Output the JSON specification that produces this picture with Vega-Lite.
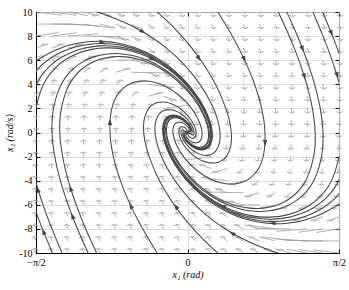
{
"$schema":"https://vega.github.io/schema/vega-lite/v6.json",
"width":303,"height":241,
"autosize":{"type":"none"},
"padding":{"left":36,"top":12,"right":10,"bottom":37},
"background":"white",
"config":{"view":{"stroke":"black","strokeWidth":1},"font":"Liberation Serif",
"axis":{"labelFont":"Liberation Serif","titleFont":"Liberation Serif","labelFontSize":10,"titleFontSize":10,"labelColor":"black","titleColor":"black","domainColor":"black","tickColor":"black","gridColor":"#d8d8d8","gridWidth":0.8,"titleFontWeight":"normal"}},
"datasets":{
"arrows":[
{"x":-1.571,"y":-10,"xe":-1.591,"ye":-9.62,"hx":-1.584,"h":"u"},{"x":-1.571,"y":-9,"xe":-1.590,"ye":-8.62,"hx":-1.584,"h":"u"},{"x":-1.571,"y":-8,"xe":-1.589,"ye":-7.62,"hx":-1.583,"h":"u"},{"x":-1.571,"y":-7,"xe":-1.588,"ye":-6.62,"hx":-1.582,"h":"u"},{"x":-1.571,"y":-6,"xe":-1.586,"ye":-5.62,"hx":-1.581,"h":"u"},{"x":-1.571,"y":-5,"xe":-1.585,"ye":-4.62,"hx":-1.580,"h":"u"},{"x":-1.571,"y":-4,"xe":-1.583,"ye":-3.62,"hx":-1.579,"h":"u"},{"x":-1.571,"y":-3,"xe":-1.581,"ye":-2.62,"hx":-1.577,"h":"u"},{"x":-1.571,"y":-2,"xe":-1.578,"ye":-1.62,"hx":-1.576,"h":"u"},{"x":-1.571,"y":-1,"xe":-1.575,"ye":-0.62,"hx":-1.574,"h":"u"},{"x":-1.571,"y":0,"xe":-1.571,"ye":0.38,"hx":-1.571,"h":"u"},{"x":-1.571,"y":1,"xe":-1.566,"ye":1.38,"hx":-1.568,"h":"u"},{"x":-1.571,"y":2,"xe":-1.560,"ye":2.38,"hx":-1.564,"h":"u"},{"x":-1.571,"y":3,"xe":-1.552,"ye":3.38,"hx":-1.558,"h":"u"},{"x":-1.571,"y":4,"xe":-1.541,"ye":4.38,"hx":-1.551,"h":"u"},{"x":-1.571,"y":5,"xe":-1.524,"ye":5.38,"hx":-1.540,"h":"u"},{"x":-1.571,"y":6,"xe":-1.496,"ye":6.37,"hx":-1.521,"h":"u"},{"x":-1.571,"y":7,"xe":-1.445,"ye":7.36,"hx":-1.487,"h":"u"},{"x":-1.571,"y":8,"xe":-1.334,"ye":8.3,"h":"n"},{"x":-1.571,"y":9,"xe":-1.191,"ye":9,"h":"n"},{"x":-1.571,"y":10,"xe":-1.302,"ye":9.73,"h":"n"},
{"x":-1.405,"y":-10,"xe":-1.425,"ye":-9.62,"hx":-1.418,"h":"u"},{"x":-1.405,"y":-9,"xe":-1.424,"ye":-8.62,"hx":-1.418,"h":"u"},{"x":-1.405,"y":-8,"xe":-1.423,"ye":-7.62,"hx":-1.417,"h":"u"},{"x":-1.405,"y":-7,"xe":-1.422,"ye":-6.62,"hx":-1.416,"h":"u"},{"x":-1.405,"y":-6,"xe":-1.420,"ye":-5.62,"hx":-1.415,"h":"u"},{"x":-1.405,"y":-5,"xe":-1.419,"ye":-4.62,"hx":-1.414,"h":"u"},{"x":-1.405,"y":-4,"xe":-1.417,"ye":-3.62,"hx":-1.413,"h":"u"},{"x":-1.405,"y":-3,"xe":-1.415,"ye":-2.62,"hx":-1.412,"h":"u"},{"x":-1.405,"y":-2,"xe":-1.412,"ye":-1.62,"hx":-1.410,"h":"u"},{"x":-1.405,"y":-1,"xe":-1.409,"ye":-0.62,"hx":-1.408,"h":"u"},{"x":-1.405,"y":0,"xe":-1.405,"ye":0.38,"hx":-1.405,"h":"u"},{"x":-1.405,"y":1,"xe":-1.400,"ye":1.38,"hx":-1.402,"h":"u"},{"x":-1.405,"y":2,"xe":-1.394,"ye":2.38,"hx":-1.398,"h":"u"},{"x":-1.405,"y":3,"xe":-1.386,"ye":3.38,"hx":-1.392,"h":"u"},{"x":-1.405,"y":4,"xe":-1.374,"ye":4.38,"hx":-1.384,"h":"u"},{"x":-1.405,"y":5,"xe":-1.356,"ye":5.38,"hx":-1.372,"h":"u"},{"x":-1.405,"y":6,"xe":-1.327,"ye":6.37,"hx":-1.353,"h":"u"},{"x":-1.405,"y":7,"xe":-1.272,"ye":7.36,"hx":-1.316,"h":"u"},{"x":-1.405,"y":8,"xe":-1.149,"ye":8.28,"h":"n"},{"x":-1.405,"y":9,"xe":-1.028,"ye":8.95,"h":"n"},{"x":-1.405,"y":10,"xe":-1.152,"ye":9.72,"h":"n"},
{"x":-1.240,"y":-10,"xe":-1.261,"ye":-9.62,"hx":-1.254,"h":"u"},{"x":-1.240,"y":-9,"xe":-1.260,"ye":-8.62,"hx":-1.253,"h":"u"},{"x":-1.240,"y":-8,"xe":-1.258,"ye":-7.62,"hx":-1.252,"h":"u"},{"x":-1.240,"y":-7,"xe":-1.257,"ye":-6.62,"hx":-1.251,"h":"u"},{"x":-1.240,"y":-6,"xe":-1.256,"ye":-5.62,"hx":-1.251,"h":"u"},{"x":-1.240,"y":-5,"xe":-1.254,"ye":-4.62,"hx":-1.249,"h":"u"},{"x":-1.240,"y":-4,"xe":-1.252,"ye":-3.62,"hx":-1.248,"h":"u"},{"x":-1.240,"y":-3,"xe":-1.250,"ye":-2.62,"hx":-1.247,"h":"u"},{"x":-1.240,"y":-2,"xe":-1.247,"ye":-1.62,"hx":-1.245,"h":"u"},{"x":-1.240,"y":-1,"xe":-1.244,"ye":-0.62,"hx":-1.243,"h":"u"},{"x":-1.240,"y":0,"xe":-1.240,"ye":0.38,"hx":-1.240,"h":"u"},{"x":-1.240,"y":1,"xe":-1.235,"ye":1.38,"hx":-1.237,"h":"u"},{"x":-1.240,"y":2,"xe":-1.228,"ye":2.38,"hx":-1.232,"h":"u"},{"x":-1.240,"y":3,"xe":-1.219,"ye":3.38,"hx":-1.226,"h":"u"},{"x":-1.240,"y":4,"xe":-1.206,"ye":4.38,"hx":-1.217,"h":"u"},{"x":-1.240,"y":5,"xe":-1.186,"ye":5.38,"hx":-1.204,"h":"u"},{"x":-1.240,"y":6,"xe":-1.152,"ye":6.37,"hx":-1.181,"h":"u"},{"x":-1.240,"y":7,"xe":-1.080,"ye":7.35,"hx":-1.133,"h":"u"},{"x":-1.240,"y":8,"xe":-0.920,"ye":8.2,"h":"n"},{"x":-1.240,"y":9,"xe":-0.906,"ye":8.82,"h":"n"},{"x":-1.240,"y":10,"xe":-1.028,"ye":9.69,"h":"n"},
{"x":-1.075,"y":-10,"xe":-1.096,"ye":-9.62,"hx":-1.089,"h":"u"},{"x":-1.075,"y":-9,"xe":-1.095,"ye":-8.62,"hx":-1.088,"h":"u"},{"x":-1.075,"y":-8,"xe":-1.094,"ye":-7.62,"hx":-1.088,"h":"u"},{"x":-1.075,"y":-7,"xe":-1.093,"ye":-6.62,"hx":-1.087,"h":"u"},{"x":-1.075,"y":-6,"xe":-1.091,"ye":-5.62,"hx":-1.086,"h":"u"},{"x":-1.075,"y":-5,"xe":-1.090,"ye":-4.62,"hx":-1.085,"h":"u"},{"x":-1.075,"y":-4,"xe":-1.088,"ye":-3.62,"hx":-1.084,"h":"u"},{"x":-1.075,"y":-3,"xe":-1.085,"ye":-2.62,"hx":-1.082,"h":"u"},{"x":-1.075,"y":-2,"xe":-1.083,"ye":-1.62,"hx":-1.080,"h":"u"},{"x":-1.075,"y":-1,"xe":-1.079,"ye":-0.62,"hx":-1.078,"h":"u"},{"x":-1.075,"y":0,"xe":-1.075,"ye":0.38,"hx":-1.075,"h":"u"},{"x":-1.075,"y":1,"xe":-1.069,"ye":1.38,"hx":-1.071,"h":"u"},{"x":-1.075,"y":2,"xe":-1.062,"ye":2.38,"hx":-1.066,"h":"u"},{"x":-1.075,"y":3,"xe":-1.052,"ye":3.38,"hx":-1.060,"h":"u"},{"x":-1.075,"y":4,"xe":-1.036,"ye":4.38,"hx":-1.049,"h":"u"},{"x":-1.075,"y":5,"xe":-1.011,"ye":5.38,"hx":-1.032,"h":"u"},{"x":-1.075,"y":6,"xe":-0.961,"ye":6.36,"hx":-0.999,"h":"u"},{"x":-1.075,"y":7,"xe":-0.844,"ye":7.3,"h":"n"},{"x":-1.075,"y":8,"xe":-0.697,"ye":7.96,"h":"n"},{"x":-1.075,"y":9,"xe":-0.832,"ye":8.71,"h":"n"},{"x":-1.075,"y":10,"xe":-0.910,"ye":9.66,"hx":-0.965,"h":"d"},
{"x":-0.909,"y":-10,"xe":-0.931,"ye":-9.62,"hx":-0.924,"h":"u"},{"x":-0.909,"y":-9,"xe":-0.930,"ye":-8.62,"hx":-0.923,"h":"u"},{"x":-0.909,"y":-8,"xe":-0.929,"ye":-7.62,"hx":-0.922,"h":"u"},{"x":-0.909,"y":-7,"xe":-0.928,"ye":-6.62,"hx":-0.922,"h":"u"},{"x":-0.909,"y":-6,"xe":-0.926,"ye":-5.62,"hx":-0.920,"h":"u"},{"x":-0.909,"y":-5,"xe":-0.925,"ye":-4.62,"hx":-0.920,"h":"u"},{"x":-0.909,"y":-4,"xe":-0.923,"ye":-3.62,"hx":-0.918,"h":"u"},{"x":-0.909,"y":-3,"xe":-0.920,"ye":-2.62,"hx":-0.916,"h":"u"},{"x":-0.909,"y":-2,"xe":-0.917,"ye":-1.62,"hx":-0.914,"h":"u"},{"x":-0.909,"y":-1,"xe":-0.914,"ye":-0.62,"hx":-0.912,"h":"u"},{"x":-0.909,"y":0,"xe":-0.909,"ye":0.38,"hx":-0.909,"h":"u"},{"x":-0.909,"y":1,"xe":-0.903,"ye":1.38,"hx":-0.905,"h":"u"},{"x":-0.909,"y":2,"xe":-0.894,"ye":2.38,"hx":-0.899,"h":"u"},{"x":-0.909,"y":3,"xe":-0.881,"ye":3.38,"hx":-0.890,"h":"u"},{"x":-0.909,"y":4,"xe":-0.860,"ye":4.38,"hx":-0.876,"h":"u"},{"x":-0.909,"y":5,"xe":-0.825,"ye":5.35,"hx":-0.853,"h":"u"},{"x":-0.909,"y":6,"xe":-0.727,"ye":6.33,"hx":-0.787,"h":"u"},{"x":-0.909,"y":7,"xe":-0.533,"ye":7.05,"h":"n"},{"x":-0.909,"y":8,"xe":-0.656,"ye":7.72,"h":"n"},{"x":-0.909,"y":9,"xe":-0.746,"ye":8.66,"hx":-0.800,"h":"d"},{"x":-0.909,"y":10,"xe":-0.785,"ye":9.64,"hx":-0.826,"h":"d"},
{"x":-0.744,"y":-10,"xe":-0.768,"ye":-9.62,"hx":-0.760,"h":"u"},{"x":-0.744,"y":-9,"xe":-0.767,"ye":-8.62,"hx":-0.759,"h":"u"},{"x":-0.744,"y":-8,"xe":-0.766,"ye":-7.62,"hx":-0.759,"h":"u"},{"x":-0.744,"y":-7,"xe":-0.764,"ye":-6.62,"hx":-0.758,"h":"u"},{"x":-0.744,"y":-6,"xe":-0.763,"ye":-5.62,"hx":-0.757,"h":"u"},{"x":-0.744,"y":-5,"xe":-0.761,"ye":-4.62,"hx":-0.755,"h":"u"},{"x":-0.744,"y":-4,"xe":-0.759,"ye":-3.62,"hx":-0.754,"h":"u"},{"x":-0.744,"y":-3,"xe":-0.757,"ye":-2.62,"hx":-0.753,"h":"u"},{"x":-0.744,"y":-2,"xe":-0.753,"ye":-1.62,"hx":-0.750,"h":"u"},{"x":-0.744,"y":-1,"xe":-0.749,"ye":-0.62,"hx":-0.748,"h":"u"},{"x":-0.744,"y":0,"xe":-0.744,"ye":0.38,"hx":-0.744,"h":"u"},{"x":-0.744,"y":1,"xe":-0.736,"ye":1.38,"hx":-0.739,"h":"u"},{"x":-0.744,"y":2,"xe":-0.725,"ye":2.38,"hx":-0.731,"h":"u"},{"x":-0.744,"y":3,"xe":-0.707,"ye":3.38,"hx":-0.719,"h":"u"},{"x":-0.744,"y":4,"xe":-0.673,"ye":4.37,"hx":-0.696,"h":"u"},{"x":-0.744,"y":5,"xe":-0.586,"ye":5.35,"hx":-0.638,"h":"u"},{"x":-0.744,"y":6,"xe":-0.369,"ye":6.06,"h":"n"},{"x":-0.744,"y":7,"xe":-0.511,"ye":6.7,"h":"n"},{"x":-0.744,"y":8,"xe":-0.597,"ye":7.65,"hx":-0.645,"h":"d"},{"x":-0.744,"y":9,"xe":-0.631,"ye":8.64,"hx":-0.669,"h":"d"},{"x":-0.744,"y":10,"xe":-0.650,"ye":9.63,"hx":-0.681,"h":"d"},
{"x":-0.579,"y":-10,"xe":-0.605,"ye":-9.62,"hx":-0.596,"h":"u"},{"x":-0.579,"y":-9,"xe":-0.604,"ye":-8.62,"hx":-0.596,"h":"u"},{"x":-0.579,"y":-8,"xe":-0.603,"ye":-7.62,"hx":-0.595,"h":"u"},{"x":-0.579,"y":-7,"xe":-0.601,"ye":-6.62,"hx":-0.594,"h":"u"},{"x":-0.579,"y":-6,"xe":-0.600,"ye":-5.62,"hx":-0.593,"h":"u"},{"x":-0.579,"y":-5,"xe":-0.598,"ye":-4.62,"hx":-0.592,"h":"u"},{"x":-0.579,"y":-4,"xe":-0.596,"ye":-3.62,"hx":-0.590,"h":"u"},{"x":-0.579,"y":-3,"xe":-0.593,"ye":-2.62,"hx":-0.588,"h":"u"},{"x":-0.579,"y":-2,"xe":-0.590,"ye":-1.62,"hx":-0.586,"h":"u"},{"x":-0.579,"y":-1,"xe":-0.585,"ye":-0.62,"hx":-0.583,"h":"u"},{"x":-0.579,"y":0,"xe":-0.579,"ye":0.38,"hx":-0.579,"h":"u"},{"x":-0.579,"y":1,"xe":-0.569,"ye":1.38,"hx":-0.572,"h":"u"},{"x":-0.579,"y":2,"xe":-0.553,"ye":2.38,"hx":-0.562,"h":"u"},{"x":-0.579,"y":3,"xe":-0.520,"ye":3.38,"hx":-0.539,"h":"u"},{"x":-0.579,"y":4,"xe":-0.428,"ye":4.35,"hx":-0.478,"h":"u"},{"x":-0.579,"y":5,"xe":-0.203,"ye":4.94,"h":"n"},{"x":-0.579,"y":6,"xe":-0.394,"ye":5.67,"hx":-0.455,"h":"d"},{"x":-0.579,"y":7,"xe":-0.458,"ye":6.64,"hx":-0.498,"h":"d"},{"x":-0.579,"y":8,"xe":-0.483,"ye":7.63,"hx":-0.515,"h":"d"},{"x":-0.579,"y":9,"xe":-0.497,"ye":8.63,"hx":-0.524,"h":"d"},{"x":-0.579,"y":10,"xe":-0.506,"ye":9.63,"hx":-0.530,"h":"d"},
{"x":-0.413,"y":-10,"xe":-0.441,"ye":-9.62,"hx":-0.432,"h":"u"},{"x":-0.413,"y":-9,"xe":-0.440,"ye":-8.62,"hx":-0.431,"h":"u"},{"x":-0.413,"y":-8,"xe":-0.439,"ye":-7.62,"hx":-0.431,"h":"u"},{"x":-0.413,"y":-7,"xe":-0.438,"ye":-6.62,"hx":-0.430,"h":"u"},{"x":-0.413,"y":-6,"xe":-0.437,"ye":-5.62,"hx":-0.429,"h":"u"},{"x":-0.413,"y":-5,"xe":-0.435,"ye":-4.62,"hx":-0.428,"h":"u"},{"x":-0.413,"y":-4,"xe":-0.433,"ye":-3.62,"hx":-0.426,"h":"u"},{"x":-0.413,"y":-3,"xe":-0.430,"ye":-2.62,"hx":-0.425,"h":"u"},{"x":-0.413,"y":-2,"xe":-0.427,"ye":-1.62,"hx":-0.422,"h":"u"},{"x":-0.413,"y":-1,"xe":-0.421,"ye":-0.62,"hx":-0.418,"h":"u"},{"x":-0.413,"y":0,"xe":-0.413,"ye":0.38,"hx":-0.413,"h":"u"},{"x":-0.413,"y":1,"xe":-0.399,"ye":1.38,"hx":-0.403,"h":"u"},{"x":-0.413,"y":2,"xe":-0.366,"ye":2.38,"hx":-0.382,"h":"u"},{"x":-0.413,"y":3,"xe":-0.246,"ye":3.34,"hx":-0.301,"h":"u"},{"x":-0.413,"y":4,"xe":-0.139,"ye":3.74,"h":"n"},{"x":-0.413,"y":5,"xe":-0.284,"ye":4.64,"hx":-0.327,"h":"d"},{"x":-0.413,"y":6,"xe":-0.320,"ye":5.63,"hx":-0.351,"h":"d"},{"x":-0.413,"y":7,"xe":-0.336,"ye":6.63,"hx":-0.361,"h":"d"},{"x":-0.413,"y":8,"xe":-0.345,"ye":7.63,"hx":-0.367,"h":"d"},{"x":-0.413,"y":9,"xe":-0.350,"ye":8.63,"hx":-0.371,"h":"d"},{"x":-0.413,"y":10,"xe":-0.354,"ye":9.63,"hx":-0.374,"h":"d"},
{"x":-0.248,"y":-10,"xe":-0.279,"ye":-9.62,"hx":-0.269,"h":"u"},{"x":-0.248,"y":-9,"xe":-0.279,"ye":-8.62,"hx":-0.268,"h":"u"},{"x":-0.248,"y":-8,"xe":-0.278,"ye":-7.62,"hx":-0.268,"h":"u"},{"x":-0.248,"y":-7,"xe":-0.277,"ye":-6.62,"hx":-0.267,"h":"u"},{"x":-0.248,"y":-6,"xe":-0.276,"ye":-5.62,"hx":-0.267,"h":"u"},{"x":-0.248,"y":-5,"xe":-0.274,"ye":-4.62,"hx":-0.266,"h":"u"},{"x":-0.248,"y":-4,"xe":-0.273,"ye":-3.62,"hx":-0.264,"h":"u"},{"x":-0.248,"y":-3,"xe":-0.270,"ye":-2.62,"hx":-0.263,"h":"u"},{"x":-0.248,"y":-2,"xe":-0.266,"ye":-1.62,"hx":-0.260,"h":"u"},{"x":-0.248,"y":-1,"xe":-0.260,"ye":-0.62,"hx":-0.256,"h":"u"},{"x":-0.248,"y":0,"xe":-0.248,"ye":0.38,"hx":-0.248,"h":"u"},{"x":-0.248,"y":1,"xe":-0.217,"ye":1.38,"hx":-0.227,"h":"u"},{"x":-0.248,"y":2,"xe":0.014,"ye":2.28,"h":"n"},{"x":-0.248,"y":3,"xe":-0.113,"ye":2.64,"hx":-0.158,"h":"d"},{"x":-0.248,"y":4,"xe":-0.165,"ye":3.63,"hx":-0.192,"h":"d"},{"x":-0.248,"y":5,"xe":-0.181,"ye":4.63,"hx":-0.203,"h":"d"},{"x":-0.248,"y":6,"xe":-0.189,"ye":5.63,"hx":-0.208,"h":"d"},{"x":-0.248,"y":7,"xe":-0.193,"ye":6.62,"hx":-0.211,"h":"d"},{"x":-0.248,"y":8,"xe":-0.196,"ye":7.62,"hx":-0.213,"h":"d"},{"x":-0.248,"y":9,"xe":-0.198,"ye":8.62,"hx":-0.215,"h":"d"},{"x":-0.248,"y":10,"xe":-0.200,"ye":9.62,"hx":-0.216,"h":"d"},
{"x":-0.083,"y":-10,"xe":-0.118,"ye":-9.62,"hx":-0.107,"h":"u"},{"x":-0.083,"y":-9,"xe":-0.118,"ye":-8.62,"hx":-0.106,"h":"u"},{"x":-0.083,"y":-8,"xe":-0.118,"ye":-7.62,"hx":-0.106,"h":"u"},{"x":-0.083,"y":-7,"xe":-0.117,"ye":-6.62,"hx":-0.106,"h":"u"},{"x":-0.083,"y":-6,"xe":-0.117,"ye":-5.62,"hx":-0.106,"h":"u"},{"x":-0.083,"y":-5,"xe":-0.116,"ye":-4.62,"hx":-0.105,"h":"u"},{"x":-0.083,"y":-4,"xe":-0.115,"ye":-3.62,"hx":-0.104,"h":"u"},{"x":-0.083,"y":-3,"xe":-0.113,"ye":-2.62,"hx":-0.103,"h":"u"},{"x":-0.083,"y":-2,"xe":-0.111,"ye":-1.62,"hx":-0.101,"h":"u"},{"x":-0.083,"y":-1,"xe":-0.105,"ye":-0.62,"hx":-0.098,"h":"u"},{"x":-0.083,"y":0,"xe":-0.083,"ye":0.38,"hx":-0.083,"h":"u"},{"x":-0.083,"y":1,"xe":0.055,"ye":0.65,"hx":0.009,"h":"d"},{"x":-0.083,"y":2,"xe":-0.023,"ye":1.62,"hx":-0.043,"h":"d"},{"x":-0.083,"y":3,"xe":-0.033,"ye":2.62,"hx":-0.049,"h":"d"},{"x":-0.083,"y":4,"xe":-0.037,"ye":3.62,"hx":-0.052,"h":"d"},{"x":-0.083,"y":5,"xe":-0.039,"ye":4.62,"hx":-0.053,"h":"d"},{"x":-0.083,"y":6,"xe":-0.040,"ye":5.62,"hx":-0.054,"h":"d"},{"x":-0.083,"y":7,"xe":-0.041,"ye":6.62,"hx":-0.055,"h":"d"},{"x":-0.083,"y":8,"xe":-0.041,"ye":7.62,"hx":-0.055,"h":"d"},{"x":-0.083,"y":9,"xe":-0.042,"ye":8.62,"hx":-0.055,"h":"d"},{"x":-0.083,"y":10,"xe":-0.042,"ye":9.62,"hx":-0.056,"h":"d"},
{"x":0.083,"y":10,"xe":0.118,"ye":9.62,"hx":0.107,"h":"d"},{"x":0.083,"y":9,"xe":0.118,"ye":8.62,"hx":0.106,"h":"d"},{"x":0.083,"y":8,"xe":0.118,"ye":7.62,"hx":0.106,"h":"d"},{"x":0.083,"y":7,"xe":0.117,"ye":6.62,"hx":0.106,"h":"d"},{"x":0.083,"y":6,"xe":0.117,"ye":5.62,"hx":0.106,"h":"d"},{"x":0.083,"y":5,"xe":0.116,"ye":4.62,"hx":0.105,"h":"d"},{"x":0.083,"y":4,"xe":0.115,"ye":3.62,"hx":0.104,"h":"d"},{"x":0.083,"y":3,"xe":0.113,"ye":2.62,"hx":0.103,"h":"d"},{"x":0.083,"y":2,"xe":0.111,"ye":1.62,"hx":0.101,"h":"d"},{"x":0.083,"y":1,"xe":0.105,"ye":0.62,"hx":0.098,"h":"d"},{"x":0.083,"y":0,"xe":0.083,"ye":-0.38,"hx":0.083,"h":"d"},{"x":0.083,"y":-1,"xe":-0.055,"ye":-0.65,"hx":-0.009,"h":"u"},{"x":0.083,"y":-2,"xe":0.023,"ye":-1.62,"hx":0.043,"h":"u"},{"x":0.083,"y":-3,"xe":0.033,"ye":-2.62,"hx":0.049,"h":"u"},{"x":0.083,"y":-4,"xe":0.037,"ye":-3.62,"hx":0.052,"h":"u"},{"x":0.083,"y":-5,"xe":0.039,"ye":-4.62,"hx":0.053,"h":"u"},{"x":0.083,"y":-6,"xe":0.040,"ye":-5.62,"hx":0.054,"h":"u"},{"x":0.083,"y":-7,"xe":0.041,"ye":-6.62,"hx":0.055,"h":"u"},{"x":0.083,"y":-8,"xe":0.041,"ye":-7.62,"hx":0.055,"h":"u"},{"x":0.083,"y":-9,"xe":0.042,"ye":-8.62,"hx":0.055,"h":"u"},{"x":0.083,"y":-10,"xe":0.042,"ye":-9.62,"hx":0.056,"h":"u"},
{"x":0.248,"y":10,"xe":0.279,"ye":9.62,"hx":0.269,"h":"d"},{"x":0.248,"y":9,"xe":0.279,"ye":8.62,"hx":0.268,"h":"d"},{"x":0.248,"y":8,"xe":0.278,"ye":7.62,"hx":0.268,"h":"d"},{"x":0.248,"y":7,"xe":0.277,"ye":6.62,"hx":0.267,"h":"d"},{"x":0.248,"y":6,"xe":0.276,"ye":5.62,"hx":0.267,"h":"d"},{"x":0.248,"y":5,"xe":0.274,"ye":4.62,"hx":0.266,"h":"d"},{"x":0.248,"y":4,"xe":0.273,"ye":3.62,"hx":0.264,"h":"d"},{"x":0.248,"y":3,"xe":0.270,"ye":2.62,"hx":0.263,"h":"d"},{"x":0.248,"y":2,"xe":0.266,"ye":1.62,"hx":0.260,"h":"d"},{"x":0.248,"y":1,"xe":0.260,"ye":0.62,"hx":0.256,"h":"d"},{"x":0.248,"y":0,"xe":0.248,"ye":-0.38,"hx":0.248,"h":"d"},{"x":0.248,"y":-1,"xe":0.217,"ye":-1.38,"hx":0.227,"h":"d"},{"x":0.248,"y":-2,"xe":-0.014,"ye":-2.28,"h":"n"},{"x":0.248,"y":-3,"xe":0.113,"ye":-2.64,"hx":0.158,"h":"u"},{"x":0.248,"y":-4,"xe":0.165,"ye":-3.63,"hx":0.192,"h":"u"},{"x":0.248,"y":-5,"xe":0.181,"ye":-4.63,"hx":0.203,"h":"u"},{"x":0.248,"y":-6,"xe":0.189,"ye":-5.63,"hx":0.208,"h":"u"},{"x":0.248,"y":-7,"xe":0.193,"ye":-6.62,"hx":0.211,"h":"u"},{"x":0.248,"y":-8,"xe":0.196,"ye":-7.62,"hx":0.213,"h":"u"},{"x":0.248,"y":-9,"xe":0.198,"ye":-8.62,"hx":0.215,"h":"u"},{"x":0.248,"y":-10,"xe":0.200,"ye":-9.62,"hx":0.216,"h":"u"},
{"x":0.413,"y":10,"xe":0.441,"ye":9.62,"hx":0.432,"h":"d"},{"x":0.413,"y":9,"xe":0.440,"ye":8.62,"hx":0.431,"h":"d"},{"x":0.413,"y":8,"xe":0.439,"ye":7.62,"hx":0.431,"h":"d"},{"x":0.413,"y":7,"xe":0.438,"ye":6.62,"hx":0.430,"h":"d"},{"x":0.413,"y":6,"xe":0.437,"ye":5.62,"hx":0.429,"h":"d"},{"x":0.413,"y":5,"xe":0.435,"ye":4.62,"hx":0.428,"h":"d"},{"x":0.413,"y":4,"xe":0.433,"ye":3.62,"hx":0.426,"h":"d"},{"x":0.413,"y":3,"xe":0.430,"ye":2.62,"hx":0.425,"h":"d"},{"x":0.413,"y":2,"xe":0.427,"ye":1.62,"hx":0.422,"h":"d"},{"x":0.413,"y":1,"xe":0.421,"ye":0.62,"hx":0.418,"h":"d"},{"x":0.413,"y":0,"xe":0.413,"ye":-0.38,"hx":0.413,"h":"d"},{"x":0.413,"y":-1,"xe":0.399,"ye":-1.38,"hx":0.403,"h":"d"},{"x":0.413,"y":-2,"xe":0.366,"ye":-2.38,"hx":0.382,"h":"d"},{"x":0.413,"y":-3,"xe":0.246,"ye":-3.34,"hx":0.301,"h":"d"},{"x":0.413,"y":-4,"xe":0.139,"ye":-3.74,"h":"n"},{"x":0.413,"y":-5,"xe":0.284,"ye":-4.64,"hx":0.327,"h":"u"},{"x":0.413,"y":-6,"xe":0.320,"ye":-5.63,"hx":0.351,"h":"u"},{"x":0.413,"y":-7,"xe":0.336,"ye":-6.63,"hx":0.361,"h":"u"},{"x":0.413,"y":-8,"xe":0.345,"ye":-7.63,"hx":0.367,"h":"u"},{"x":0.413,"y":-9,"xe":0.350,"ye":-8.63,"hx":0.371,"h":"u"},{"x":0.413,"y":-10,"xe":0.354,"ye":-9.63,"hx":0.374,"h":"u"},
{"x":0.579,"y":10,"xe":0.605,"ye":9.62,"hx":0.596,"h":"d"},{"x":0.579,"y":9,"xe":0.604,"ye":8.62,"hx":0.596,"h":"d"},{"x":0.579,"y":8,"xe":0.603,"ye":7.62,"hx":0.595,"h":"d"},{"x":0.579,"y":7,"xe":0.601,"ye":6.62,"hx":0.594,"h":"d"},{"x":0.579,"y":6,"xe":0.600,"ye":5.62,"hx":0.593,"h":"d"},{"x":0.579,"y":5,"xe":0.598,"ye":4.62,"hx":0.592,"h":"d"},{"x":0.579,"y":4,"xe":0.596,"ye":3.62,"hx":0.590,"h":"d"},{"x":0.579,"y":3,"xe":0.593,"ye":2.62,"hx":0.588,"h":"d"},{"x":0.579,"y":2,"xe":0.590,"ye":1.62,"hx":0.586,"h":"d"},{"x":0.579,"y":1,"xe":0.585,"ye":0.62,"hx":0.583,"h":"d"},{"x":0.579,"y":0,"xe":0.579,"ye":-0.38,"hx":0.579,"h":"d"},{"x":0.579,"y":-1,"xe":0.569,"ye":-1.38,"hx":0.572,"h":"d"},{"x":0.579,"y":-2,"xe":0.553,"ye":-2.38,"hx":0.562,"h":"d"},{"x":0.579,"y":-3,"xe":0.520,"ye":-3.38,"hx":0.539,"h":"d"},{"x":0.579,"y":-4,"xe":0.428,"ye":-4.35,"hx":0.478,"h":"d"},{"x":0.579,"y":-5,"xe":0.203,"ye":-4.94,"h":"n"},{"x":0.579,"y":-6,"xe":0.394,"ye":-5.67,"hx":0.455,"h":"u"},{"x":0.579,"y":-7,"xe":0.458,"ye":-6.64,"hx":0.498,"h":"u"},{"x":0.579,"y":-8,"xe":0.483,"ye":-7.63,"hx":0.515,"h":"u"},{"x":0.579,"y":-9,"xe":0.497,"ye":-8.63,"hx":0.524,"h":"u"},{"x":0.579,"y":-10,"xe":0.506,"ye":-9.63,"hx":0.530,"h":"u"},
{"x":0.744,"y":10,"xe":0.768,"ye":9.62,"hx":0.760,"h":"d"},{"x":0.744,"y":9,"xe":0.767,"ye":8.62,"hx":0.759,"h":"d"},{"x":0.744,"y":8,"xe":0.766,"ye":7.62,"hx":0.759,"h":"d"},{"x":0.744,"y":7,"xe":0.764,"ye":6.62,"hx":0.758,"h":"d"},{"x":0.744,"y":6,"xe":0.763,"ye":5.62,"hx":0.757,"h":"d"},{"x":0.744,"y":5,"xe":0.761,"ye":4.62,"hx":0.755,"h":"d"},{"x":0.744,"y":4,"xe":0.759,"ye":3.62,"hx":0.754,"h":"d"},{"x":0.744,"y":3,"xe":0.757,"ye":2.62,"hx":0.753,"h":"d"},{"x":0.744,"y":2,"xe":0.753,"ye":1.62,"hx":0.750,"h":"d"},{"x":0.744,"y":1,"xe":0.749,"ye":0.62,"hx":0.748,"h":"d"},{"x":0.744,"y":0,"xe":0.744,"ye":-0.38,"hx":0.744,"h":"d"},{"x":0.744,"y":-1,"xe":0.736,"ye":-1.38,"hx":0.739,"h":"d"},{"x":0.744,"y":-2,"xe":0.725,"ye":-2.38,"hx":0.731,"h":"d"},{"x":0.744,"y":-3,"xe":0.707,"ye":-3.38,"hx":0.719,"h":"d"},{"x":0.744,"y":-4,"xe":0.673,"ye":-4.37,"hx":0.696,"h":"d"},{"x":0.744,"y":-5,"xe":0.586,"ye":-5.35,"hx":0.638,"h":"d"},{"x":0.744,"y":-6,"xe":0.369,"ye":-6.06,"h":"n"},{"x":0.744,"y":-7,"xe":0.511,"ye":-6.7,"h":"n"},{"x":0.744,"y":-8,"xe":0.597,"ye":-7.65,"hx":0.645,"h":"u"},{"x":0.744,"y":-9,"xe":0.631,"ye":-8.64,"hx":0.669,"h":"u"},{"x":0.744,"y":-10,"xe":0.650,"ye":-9.63,"hx":0.681,"h":"u"},
{"x":0.909,"y":10,"xe":0.931,"ye":9.62,"hx":0.924,"h":"d"},{"x":0.909,"y":9,"xe":0.930,"ye":8.62,"hx":0.923,"h":"d"},{"x":0.909,"y":8,"xe":0.929,"ye":7.62,"hx":0.922,"h":"d"},{"x":0.909,"y":7,"xe":0.928,"ye":6.62,"hx":0.922,"h":"d"},{"x":0.909,"y":6,"xe":0.926,"ye":5.62,"hx":0.920,"h":"d"},{"x":0.909,"y":5,"xe":0.925,"ye":4.62,"hx":0.920,"h":"d"},{"x":0.909,"y":4,"xe":0.923,"ye":3.62,"hx":0.918,"h":"d"},{"x":0.909,"y":3,"xe":0.920,"ye":2.62,"hx":0.916,"h":"d"},{"x":0.909,"y":2,"xe":0.917,"ye":1.62,"hx":0.914,"h":"d"},{"x":0.909,"y":1,"xe":0.914,"ye":0.62,"hx":0.912,"h":"d"},{"x":0.909,"y":0,"xe":0.909,"ye":-0.38,"hx":0.909,"h":"d"},{"x":0.909,"y":-1,"xe":0.903,"ye":-1.38,"hx":0.905,"h":"d"},{"x":0.909,"y":-2,"xe":0.894,"ye":-2.38,"hx":0.899,"h":"d"},{"x":0.909,"y":-3,"xe":0.881,"ye":-3.38,"hx":0.890,"h":"d"},{"x":0.909,"y":-4,"xe":0.860,"ye":-4.38,"hx":0.876,"h":"d"},{"x":0.909,"y":-5,"xe":0.825,"ye":-5.35,"hx":0.853,"h":"d"},{"x":0.909,"y":-6,"xe":0.727,"ye":-6.33,"hx":0.787,"h":"d"},{"x":0.909,"y":-7,"xe":0.533,"ye":-7.05,"h":"n"},{"x":0.909,"y":-8,"xe":0.656,"ye":-7.72,"h":"n"},{"x":0.909,"y":-9,"xe":0.746,"ye":-8.66,"hx":0.800,"h":"u"},{"x":0.909,"y":-10,"xe":0.785,"ye":-9.64,"hx":0.826,"h":"u"},
{"x":1.075,"y":10,"xe":1.096,"ye":9.62,"hx":1.089,"h":"d"},{"x":1.075,"y":9,"xe":1.095,"ye":8.62,"hx":1.088,"h":"d"},{"x":1.075,"y":8,"xe":1.094,"ye":7.62,"hx":1.088,"h":"d"},{"x":1.075,"y":7,"xe":1.093,"ye":6.62,"hx":1.087,"h":"d"},{"x":1.075,"y":6,"xe":1.091,"ye":5.62,"hx":1.086,"h":"d"},{"x":1.075,"y":5,"xe":1.090,"ye":4.62,"hx":1.085,"h":"d"},{"x":1.075,"y":4,"xe":1.088,"ye":3.62,"hx":1.084,"h":"d"},{"x":1.075,"y":3,"xe":1.085,"ye":2.62,"hx":1.082,"h":"d"},{"x":1.075,"y":2,"xe":1.083,"ye":1.62,"hx":1.080,"h":"d"},{"x":1.075,"y":1,"xe":1.079,"ye":0.62,"hx":1.078,"h":"d"},{"x":1.075,"y":0,"xe":1.075,"ye":-0.38,"hx":1.075,"h":"d"},{"x":1.075,"y":-1,"xe":1.069,"ye":-1.38,"hx":1.071,"h":"d"},{"x":1.075,"y":-2,"xe":1.062,"ye":-2.38,"hx":1.066,"h":"d"},{"x":1.075,"y":-3,"xe":1.052,"ye":-3.38,"hx":1.060,"h":"d"},{"x":1.075,"y":-4,"xe":1.036,"ye":-4.38,"hx":1.049,"h":"d"},{"x":1.075,"y":-5,"xe":1.011,"ye":-5.38,"hx":1.032,"h":"d"},{"x":1.075,"y":-6,"xe":0.961,"ye":-6.36,"hx":0.999,"h":"d"},{"x":1.075,"y":-7,"xe":0.844,"ye":-7.3,"h":"n"},{"x":1.075,"y":-8,"xe":0.697,"ye":-7.96,"h":"n"},{"x":1.075,"y":-9,"xe":0.832,"ye":-8.71,"h":"n"},{"x":1.075,"y":-10,"xe":0.910,"ye":-9.66,"hx":0.965,"h":"u"},
{"x":1.240,"y":10,"xe":1.261,"ye":9.62,"hx":1.254,"h":"d"},{"x":1.240,"y":9,"xe":1.260,"ye":8.62,"hx":1.253,"h":"d"},{"x":1.240,"y":8,"xe":1.258,"ye":7.62,"hx":1.252,"h":"d"},{"x":1.240,"y":7,"xe":1.257,"ye":6.62,"hx":1.251,"h":"d"},{"x":1.240,"y":6,"xe":1.256,"ye":5.62,"hx":1.251,"h":"d"},{"x":1.240,"y":5,"xe":1.254,"ye":4.62,"hx":1.249,"h":"d"},{"x":1.240,"y":4,"xe":1.252,"ye":3.62,"hx":1.248,"h":"d"},{"x":1.240,"y":3,"xe":1.250,"ye":2.62,"hx":1.247,"h":"d"},{"x":1.240,"y":2,"xe":1.247,"ye":1.62,"hx":1.245,"h":"d"},{"x":1.240,"y":1,"xe":1.244,"ye":0.62,"hx":1.243,"h":"d"},{"x":1.240,"y":0,"xe":1.240,"ye":-0.38,"hx":1.240,"h":"d"},{"x":1.240,"y":-1,"xe":1.235,"ye":-1.38,"hx":1.237,"h":"d"},{"x":1.240,"y":-2,"xe":1.228,"ye":-2.38,"hx":1.232,"h":"d"},{"x":1.240,"y":-3,"xe":1.219,"ye":-3.38,"hx":1.226,"h":"d"},{"x":1.240,"y":-4,"xe":1.206,"ye":-4.38,"hx":1.217,"h":"d"},{"x":1.240,"y":-5,"xe":1.186,"ye":-5.38,"hx":1.204,"h":"d"},{"x":1.240,"y":-6,"xe":1.152,"ye":-6.37,"hx":1.181,"h":"d"},{"x":1.240,"y":-7,"xe":1.080,"ye":-7.35,"hx":1.133,"h":"d"},{"x":1.240,"y":-8,"xe":0.920,"ye":-8.2,"h":"n"},{"x":1.240,"y":-9,"xe":0.906,"ye":-8.82,"h":"n"},{"x":1.240,"y":-10,"xe":1.028,"ye":-9.69,"h":"n"},
{"x":1.405,"y":10,"xe":1.425,"ye":9.62,"hx":1.418,"h":"d"},{"x":1.405,"y":9,"xe":1.424,"ye":8.62,"hx":1.418,"h":"d"},{"x":1.405,"y":8,"xe":1.423,"ye":7.62,"hx":1.417,"h":"d"},{"x":1.405,"y":7,"xe":1.422,"ye":6.62,"hx":1.416,"h":"d"},{"x":1.405,"y":6,"xe":1.420,"ye":5.62,"hx":1.415,"h":"d"},{"x":1.405,"y":5,"xe":1.419,"ye":4.62,"hx":1.414,"h":"d"},{"x":1.405,"y":4,"xe":1.417,"ye":3.62,"hx":1.413,"h":"d"},{"x":1.405,"y":3,"xe":1.415,"ye":2.62,"hx":1.412,"h":"d"},{"x":1.405,"y":2,"xe":1.412,"ye":1.62,"hx":1.410,"h":"d"},{"x":1.405,"y":1,"xe":1.409,"ye":0.62,"hx":1.408,"h":"d"},{"x":1.405,"y":0,"xe":1.405,"ye":-0.38,"hx":1.405,"h":"d"},{"x":1.405,"y":-1,"xe":1.400,"ye":-1.38,"hx":1.402,"h":"d"},{"x":1.405,"y":-2,"xe":1.394,"ye":-2.38,"hx":1.398,"h":"d"},{"x":1.405,"y":-3,"xe":1.386,"ye":-3.38,"hx":1.392,"h":"d"},{"x":1.405,"y":-4,"xe":1.374,"ye":-4.38,"hx":1.384,"h":"d"},{"x":1.405,"y":-5,"xe":1.356,"ye":-5.38,"hx":1.372,"h":"d"},{"x":1.405,"y":-6,"xe":1.327,"ye":-6.37,"hx":1.353,"h":"d"},{"x":1.405,"y":-7,"xe":1.272,"ye":-7.36,"hx":1.316,"h":"d"},{"x":1.405,"y":-8,"xe":1.149,"ye":-8.28,"h":"n"},{"x":1.405,"y":-9,"xe":1.028,"ye":-8.95,"h":"n"},{"x":1.405,"y":-10,"xe":1.152,"ye":-9.72,"h":"n"},
{"x":1.571,"y":10,"xe":1.591,"ye":9.62,"hx":1.584,"h":"d"},{"x":1.571,"y":9,"xe":1.590,"ye":8.62,"hx":1.584,"h":"d"},{"x":1.571,"y":8,"xe":1.589,"ye":7.62,"hx":1.583,"h":"d"},{"x":1.571,"y":7,"xe":1.588,"ye":6.62,"hx":1.582,"h":"d"},{"x":1.571,"y":6,"xe":1.586,"ye":5.62,"hx":1.581,"h":"d"},{"x":1.571,"y":5,"xe":1.585,"ye":4.62,"hx":1.580,"h":"d"},{"x":1.571,"y":4,"xe":1.583,"ye":3.62,"hx":1.579,"h":"d"},{"x":1.571,"y":3,"xe":1.581,"ye":2.62,"hx":1.577,"h":"d"},{"x":1.571,"y":2,"xe":1.578,"ye":1.62,"hx":1.576,"h":"d"},{"x":1.571,"y":1,"xe":1.575,"ye":0.62,"hx":1.574,"h":"d"},{"x":1.571,"y":0,"xe":1.571,"ye":-0.38,"hx":1.571,"h":"d"},{"x":1.571,"y":-1,"xe":1.566,"ye":-1.38,"hx":1.568,"h":"d"},{"x":1.571,"y":-2,"xe":1.560,"ye":-2.38,"hx":1.564,"h":"d"},{"x":1.571,"y":-3,"xe":1.552,"ye":-3.38,"hx":1.558,"h":"d"},{"x":1.571,"y":-4,"xe":1.541,"ye":-4.38,"hx":1.551,"h":"d"},{"x":1.571,"y":-5,"xe":1.524,"ye":-5.38,"hx":1.540,"h":"d"},{"x":1.571,"y":-6,"xe":1.496,"ye":-6.37,"hx":1.521,"h":"d"},{"x":1.571,"y":-7,"xe":1.445,"ye":-7.36,"hx":1.487,"h":"d"},{"x":1.571,"y":-8,"xe":1.334,"ye":-8.3,"h":"n"},{"x":1.571,"y":-9,"xe":1.191,"ye":-9,"h":"n"},{"x":1.571,"y":-10,"xe":1.302,"ye":-9.73,"h":"n"}
],
"traj":[
{"t":"A","x":-1.571,"y":5.93},{"t":"A","x":-1.452,"y":6.54},{"t":"A","x":-1.321,"y":7.02},{"t":"A","x":-1.181,"y":7.36},{"t":"A","x":-1.034,"y":7.55},{"t":"A","x":-0.883,"y":7.59},{"t":"A","x":-0.731,"y":7.46},{"t":"A","x":-0.582,"y":7.17},{"t":"A","x":-0.439,"y":6.73},{"t":"A","x":-0.304,"y":6.15},{"t":"A","x":-0.181,"y":5.46},{"t":"A","x":-0.072,"y":4.69},{"t":"A","x":0.022,"y":3.88},{"t":"A","x":0.1,"y":3.06},{"t":"A","x":0.161,"y":2.27},{"t":"A","x":0.206,"y":1.53},{"t":"A","x":0.237,"y":0.86},{"t":"A","x":0.254,"y":0.27},{"t":"A","x":0.259,"y":-0.24},{"t":"A","x":0.254,"y":-0.65},{"t":"A","x":0.241,"y":-0.97},{"t":"A","x":0.222,"y":-1.21},{"t":"A","x":0.198,"y":-1.36},{"t":"A","x":0.171,"y":-1.44},{"t":"A","x":0.142,"y":-1.46},{"t":"A","x":0.113,"y":-1.42},{"t":"A","x":0.085,"y":-1.34},{"t":"A","x":0.058,"y":-1.22},{"t":"A","x":0.034,"y":-1.08},{"t":"A","x":0.012,"y":-0.93},{"t":"A","x":-0.007,"y":-0.77},{"t":"A","x":-0.022,"y":-0.6},{"t":"A","x":-0.034,"y":-0.44},{"t":"A","x":-0.043,"y":-0.29},{"t":"A","x":-0.049,"y":-0.15},{"t":"A","x":-0.052,"y":-0.03},{"t":"A","x":-0.04,"y":0.1},{"t":"A","x":0,"y":0},
{"t":"a","x":1.571,"y":-5.93},{"t":"a","x":1.452,"y":-6.54},{"t":"a","x":1.321,"y":-7.02},{"t":"a","x":1.181,"y":-7.36},{"t":"a","x":1.034,"y":-7.55},{"t":"a","x":0.883,"y":-7.59},{"t":"a","x":0.731,"y":-7.46},{"t":"a","x":0.582,"y":-7.17},{"t":"a","x":0.439,"y":-6.73},{"t":"a","x":0.304,"y":-6.15},{"t":"a","x":0.181,"y":-5.46},{"t":"a","x":0.072,"y":-4.69},{"t":"a","x":-0.022,"y":-3.88},{"t":"a","x":-0.1,"y":-3.06},{"t":"a","x":-0.161,"y":-2.27},{"t":"a","x":-0.206,"y":-1.53},{"t":"a","x":-0.237,"y":-0.86},{"t":"a","x":-0.254,"y":-0.27},{"t":"a","x":-0.259,"y":0.24},{"t":"a","x":-0.254,"y":0.65},{"t":"a","x":-0.241,"y":0.97},{"t":"a","x":-0.222,"y":1.21},{"t":"a","x":-0.198,"y":1.36},{"t":"a","x":-0.171,"y":1.44},{"t":"a","x":-0.142,"y":1.46},{"t":"a","x":-0.113,"y":1.42},{"t":"a","x":-0.085,"y":1.34},{"t":"a","x":-0.058,"y":1.22},{"t":"a","x":-0.034,"y":1.08},{"t":"a","x":-0.012,"y":0.93},{"t":"a","x":0.007,"y":0.77},{"t":"a","x":0.022,"y":0.6},{"t":"a","x":0.034,"y":0.44},{"t":"a","x":0.043,"y":0.29},{"t":"a","x":0.049,"y":0.15},{"t":"a","x":0.052,"y":0.03},{"t":"a","x":0.04,"y":-0.1},{"t":"a","x":0,"y":0},
{"t":"G","x":-1.571,"y":2},{"t":"G","x":-1.531,"y":3.4},{"t":"G","x":-1.463,"y":4.518},{"t":"G","x":-1.373,"y":5.404},{"t":"G","x":-1.265,"y":6.088},{"t":"G","x":-1.143,"y":6.586},{"t":"G","x":-1.011,"y":6.906},{"t":"G","x":-0.873,"y":7.05},{"t":"G","x":-0.732,"y":7.018},{"t":"G","x":-0.592,"y":6.816},{"t":"G","x":-0.456,"y":6.456},{"t":"G","x":-0.327,"y":5.956},{"t":"G","x":-0.208,"y":5.342},{"t":"G","x":-0.101,"y":4.646},{"t":"G","x":-0.008,"y":3.898},{"t":"G","x":0.07,"y":3.132},{"t":"G","x":0.133,"y":2.38},{"t":"G","x":0.181,"y":1.664},{"t":"G","x":0.214,"y":1.008},{"t":"G","x":0.234,"y":0.424},{"t":"G","x":0.242,"y":-0.078},{"t":"G","x":0.24,"y":-0.494},{"t":"G","x":0.23,"y":-0.824},{"t":"G","x":0.214,"y":-1.07},{"t":"G","x":0.193,"y":-1.238},{"t":"G","x":0.168,"y":-1.336},{"t":"G","x":0.141,"y":-1.368},{"t":"G","x":0.114,"y":-1.346},{"t":"G","x":0.087,"y":-1.28},{"t":"G","x":0.061,"y":-1.18},{"t":"G","x":0.037,"y":-1.054},{"t":"G","x":0.016,"y":-0.91},{"t":"G","x":-0.002,"y":-0.76},{"t":"G","x":-0.017,"y":-0.6},{"t":"G","x":-0.029,"y":-0.44},{"t":"G","x":-0.038,"y":-0.29},{"t":"G","x":-0.044,"y":-0.15},{"t":"G","x":0,"y":0},
{"t":"g","x":1.571,"y":-2},{"t":"g","x":1.531,"y":-3.4},{"t":"g","x":1.463,"y":-4.518},{"t":"g","x":1.373,"y":-5.404},{"t":"g","x":1.265,"y":-6.088},{"t":"g","x":1.143,"y":-6.586},{"t":"g","x":1.011,"y":-6.906},{"t":"g","x":0.873,"y":-7.05},{"t":"g","x":0.732,"y":-7.018},{"t":"g","x":0.592,"y":-6.816},{"t":"g","x":0.456,"y":-6.456},{"t":"g","x":0.327,"y":-5.956},{"t":"g","x":0.208,"y":-5.342},{"t":"g","x":0.101,"y":-4.646},{"t":"g","x":0.008,"y":-3.898},{"t":"g","x":-0.07,"y":-3.132},{"t":"g","x":-0.133,"y":-2.38},{"t":"g","x":-0.181,"y":-1.664},{"t":"g","x":-0.214,"y":-1.008},{"t":"g","x":-0.234,"y":-0.424},{"t":"g","x":-0.242,"y":0.078},{"t":"g","x":-0.24,"y":0.494},{"t":"g","x":-0.23,"y":0.824},{"t":"g","x":-0.214,"y":1.07},{"t":"g","x":-0.193,"y":1.238},{"t":"g","x":-0.168,"y":1.336},{"t":"g","x":-0.141,"y":1.368},{"t":"g","x":-0.114,"y":1.346},{"t":"g","x":-0.087,"y":1.28},{"t":"g","x":-0.061,"y":1.18},{"t":"g","x":-0.037,"y":1.054},{"t":"g","x":-0.016,"y":0.91},{"t":"g","x":0.002,"y":0.76},{"t":"g","x":0.017,"y":0.6},{"t":"g","x":0.029,"y":0.44},{"t":"g","x":0.038,"y":0.29},{"t":"g","x":0.044,"y":0.15},{"t":"g","x":0,"y":0},
{"t":"B","x":-0.942,"y":10},{"t":"B","x":-0.742,"y":9.456},{"t":"B","x":-0.553,"y":8.78},{"t":"B","x":-0.377,"y":7.97},{"t":"B","x":-0.218,"y":7.038},{"t":"B","x":-0.077,"y":6.02},{"t":"B","x":0.043,"y":4.954},{"t":"B","x":0.142,"y":3.886},{"t":"B","x":0.22,"y":2.854},{"t":"B","x":0.277,"y":1.892},{"t":"B","x":0.315,"y":1.022},{"t":"B","x":0.335,"y":0.26},{"t":"B","x":0.34,"y":-0.384},{"t":"B","x":0.332,"y":-0.908},{"t":"B","x":0.314,"y":-1.312},{"t":"B","x":0.288,"y":-1.606},{"t":"B","x":0.256,"y":-1.796},{"t":"B","x":0.22,"y":-1.892},{"t":"B","x":0.182,"y":-1.906},{"t":"B","x":0.144,"y":-1.85},{"t":"B","x":0.107,"y":-1.738},{"t":"B","x":0.072,"y":-1.582},{"t":"B","x":0.04,"y":-1.396},{"t":"B","x":0.012,"y":-1.188},{"t":"B","x":-0.012,"y":-0.972},{"t":"B","x":-0.031,"y":-0.756},{"t":"B","x":-0.046,"y":-0.548},{"t":"B","x":-0.057,"y":-0.356},{"t":"B","x":-0.064,"y":-0.182},{"t":"B","x":-0.068,"y":-0.03},{"t":"B","x":-0.069,"y":0.1},{"t":"B","x":-0.063,"y":0.27},{"t":"B","x":0,"y":0},
{"t":"b","x":0.942,"y":-10},{"t":"b","x":0.742,"y":-9.456},{"t":"b","x":0.553,"y":-8.78},{"t":"b","x":0.377,"y":-7.97},{"t":"b","x":0.218,"y":-7.038},{"t":"b","x":0.077,"y":-6.02},{"t":"b","x":-0.043,"y":-4.954},{"t":"b","x":-0.142,"y":-3.886},{"t":"b","x":-0.22,"y":-2.854},{"t":"b","x":-0.277,"y":-1.892},{"t":"b","x":-0.315,"y":-1.022},{"t":"b","x":-0.335,"y":-0.26},{"t":"b","x":-0.34,"y":0.384},{"t":"b","x":-0.332,"y":0.908},{"t":"b","x":-0.314,"y":1.312},{"t":"b","x":-0.288,"y":1.606},{"t":"b","x":-0.256,"y":1.796},{"t":"b","x":-0.22,"y":1.892},{"t":"b","x":-0.182,"y":1.906},{"t":"b","x":-0.144,"y":1.85},{"t":"b","x":-0.107,"y":1.738},{"t":"b","x":-0.072,"y":1.582},{"t":"b","x":-0.04,"y":1.396},{"t":"b","x":-0.012,"y":1.188},{"t":"b","x":0.012,"y":0.972},{"t":"b","x":0.031,"y":0.756},{"t":"b","x":0.046,"y":0.548},{"t":"b","x":0.057,"y":0.356},{"t":"b","x":0.064,"y":0.182},{"t":"b","x":0.068,"y":0.03},{"t":"b","x":0.069,"y":-0.1},{"t":"b","x":0.063,"y":-0.27},{"t":"b","x":0,"y":0},
{"t":"C","x":-0.314,"y":10},{"t":"C","x":-0.214,"y":9.278},{"t":"C","x":-0.121,"y":8.541},{"t":"C","x":-0.036,"y":7.796},{"t":"C","x":0.042,"y":7.048},{"t":"C","x":0.112,"y":6.305},{"t":"C","x":0.175,"y":5.573},{"t":"C","x":0.231,"y":4.859},{"t":"C","x":0.28,"y":4.167},{"t":"C","x":0.322,"y":3.502},{"t":"C","x":0.357,"y":2.868},{"t":"C","x":0.414,"y":1.666},{"t":"C","x":0.447,"y":0.608},{"t":"C","x":0.459,"y":-0.292},{"t":"C","x":0.453,"y":-1.032},{"t":"C","x":0.432,"y":-1.614},{"t":"C","x":0.4,"y":-2.046},{"t":"C","x":0.359,"y":-2.336},{"t":"C","x":0.312,"y":-2.5},{"t":"C","x":0.262,"y":-2.552},{"t":"C","x":0.211,"y":-2.508},{"t":"C","x":0.161,"y":-2.382},{"t":"C","x":0.113,"y":-2.194},{"t":"C","x":0.069,"y":-1.96},{"t":"C","x":0.03,"y":-1.692},{"t":"C","x":-0.004,"y":-1.408},{"t":"C","x":-0.032,"y":-1.118},{"t":"C","x":-0.054,"y":-0.836},{"t":"C","x":-0.071,"y":-0.57},{"t":"C","x":-0.082,"y":-0.328},{"t":"C","x":-0.089,"y":-0.114},{"t":"C","x":-0.091,"y":0.068},{"t":"C","x":-0.09,"y":0.218},{"t":"C","x":-0.079,"y":0.42},{"t":"C","x":-0.062,"y":0.49},{"t":"C","x":-0.042,"y":0.47},{"t":"C","x":-0.025,"y":0.4},{"t":"C","x":-0.01,"y":0.3},{"t":"C","x":0,"y":0},
{"t":"c","x":0.314,"y":-10},{"t":"c","x":0.214,"y":-9.278},{"t":"c","x":0.121,"y":-8.541},{"t":"c","x":0.036,"y":-7.796},{"t":"c","x":-0.042,"y":-7.048},{"t":"c","x":-0.112,"y":-6.305},{"t":"c","x":-0.175,"y":-5.573},{"t":"c","x":-0.231,"y":-4.859},{"t":"c","x":-0.28,"y":-4.167},{"t":"c","x":-0.322,"y":-3.502},{"t":"c","x":-0.357,"y":-2.868},{"t":"c","x":-0.414,"y":-1.666},{"t":"c","x":-0.447,"y":-0.608},{"t":"c","x":-0.459,"y":0.292},{"t":"c","x":-0.453,"y":1.032},{"t":"c","x":-0.432,"y":1.614},{"t":"c","x":-0.4,"y":2.046},{"t":"c","x":-0.359,"y":2.336},{"t":"c","x":-0.312,"y":2.5},{"t":"c","x":-0.262,"y":2.552},{"t":"c","x":-0.211,"y":2.508},{"t":"c","x":-0.161,"y":2.382},{"t":"c","x":-0.113,"y":2.194},{"t":"c","x":-0.069,"y":1.96},{"t":"c","x":-0.03,"y":1.692},{"t":"c","x":0.004,"y":1.408},{"t":"c","x":0.032,"y":1.118},{"t":"c","x":0.054,"y":0.836},{"t":"c","x":0.071,"y":0.57},{"t":"c","x":0.082,"y":0.328},{"t":"c","x":0.089,"y":0.114},{"t":"c","x":0.091,"y":-0.068},{"t":"c","x":0.09,"y":-0.218},{"t":"c","x":0.079,"y":-0.42},{"t":"c","x":0.062,"y":-0.49},{"t":"c","x":0.042,"y":-0.47},{"t":"c","x":0.025,"y":-0.4},{"t":"c","x":0.01,"y":-0.3},{"t":"c","x":0,"y":0},
{"t":"D","x":0.314,"y":10},{"t":"D","x":0.414,"y":8.722},{"t":"D","x":0.501,"y":7.488},{"t":"D","x":0.576,"y":6.307},{"t":"D","x":0.639,"y":5.186},{"t":"D","x":0.691,"y":4.13},{"t":"D","x":0.732,"y":3.143},{"t":"D","x":0.763,"y":2.227},{"t":"D","x":0.785,"y":1.382},{"t":"D","x":0.799,"y":0.608},{"t":"D","x":0.805,"y":-0.098},{"t":"D","x":0.803,"y":-1.376},{"t":"D","x":0.776,"y":-2.396},{"t":"D","x":0.728,"y":-3.176},{"t":"D","x":0.664,"y":-3.738},{"t":"D","x":0.589,"y":-4.098},{"t":"D","x":0.507,"y":-4.278},{"t":"D","x":0.421,"y":-4.296},{"t":"D","x":0.335,"y":-4.172},{"t":"D","x":0.252,"y":-3.93},{"t":"D","x":0.173,"y":-3.592},{"t":"D","x":0.101,"y":-3.184},{"t":"D","x":0.037,"y":-2.73},{"t":"D","x":-0.018,"y":-2.25},{"t":"D","x":-0.063,"y":-1.768},{"t":"D","x":-0.098,"y":-1.3},{"t":"D","x":-0.124,"y":-0.864},{"t":"D","x":-0.141,"y":-0.47},{"t":"D","x":-0.15,"y":-0.124},{"t":"D","x":-0.152,"y":0.168},{"t":"D","x":-0.149,"y":0.406},{"t":"D","x":-0.141,"y":0.592},{"t":"D","x":-0.129,"y":0.726},{"t":"D","x":-0.115,"y":0.812},{"t":"D","x":-0.099,"y":0.856},{"t":"D","x":-0.082,"y":0.862},{"t":"D","x":-0.065,"y":0.838},{"t":"D","x":-0.048,"y":0.79},{"t":"D","x":-0.032,"y":0.72},{"t":"D","x":-0.018,"y":0.63},{"t":"D","x":-0.005,"y":0.54},{"t":"D","x":0.006,"y":0.44},{"t":"D","x":0.015,"y":0.34},{"t":"D","x":0.021,"y":0.24},{"t":"D","x":0,"y":0},
{"t":"d","x":-0.314,"y":-10},{"t":"d","x":-0.414,"y":-8.722},{"t":"d","x":-0.501,"y":-7.488},{"t":"d","x":-0.576,"y":-6.307},{"t":"d","x":-0.639,"y":-5.186},{"t":"d","x":-0.691,"y":-4.13},{"t":"d","x":-0.732,"y":-3.143},{"t":"d","x":-0.763,"y":-2.227},{"t":"d","x":-0.785,"y":-1.382},{"t":"d","x":-0.799,"y":-0.608},{"t":"d","x":-0.805,"y":0.098},{"t":"d","x":-0.803,"y":1.376},{"t":"d","x":-0.776,"y":2.396},{"t":"d","x":-0.728,"y":3.176},{"t":"d","x":-0.664,"y":3.738},{"t":"d","x":-0.589,"y":4.098},{"t":"d","x":-0.507,"y":4.278},{"t":"d","x":-0.421,"y":4.296},{"t":"d","x":-0.335,"y":4.172},{"t":"d","x":-0.252,"y":3.93},{"t":"d","x":-0.173,"y":3.592},{"t":"d","x":-0.101,"y":3.184},{"t":"d","x":-0.037,"y":2.73},{"t":"d","x":0.018,"y":2.25},{"t":"d","x":0.063,"y":1.768},{"t":"d","x":0.098,"y":1.3},{"t":"d","x":0.124,"y":0.864},{"t":"d","x":0.141,"y":0.47},{"t":"d","x":0.15,"y":0.124},{"t":"d","x":0.152,"y":-0.168},{"t":"d","x":0.149,"y":-0.406},{"t":"d","x":0.141,"y":-0.592},{"t":"d","x":0.129,"y":-0.726},{"t":"d","x":0.115,"y":-0.812},{"t":"d","x":0.099,"y":-0.856},{"t":"d","x":0.082,"y":-0.862},{"t":"d","x":0.065,"y":-0.838},{"t":"d","x":0.048,"y":-0.79},{"t":"d","x":0.032,"y":-0.72},{"t":"d","x":0.018,"y":-0.63},{"t":"d","x":0.005,"y":-0.54},{"t":"d","x":-0.006,"y":-0.44},{"t":"d","x":-0.015,"y":-0.34},{"t":"d","x":-0.021,"y":-0.24},{"t":"d","x":0,"y":0},
{"t":"E","x":0.942,"y":10},{"t":"E","x":1.042,"y":8.272},{"t":"E","x":1.125,"y":6.667},{"t":"E","x":1.191,"y":5.188},{"t":"E","x":1.243,"y":3.833},{"t":"E","x":1.281,"y":2.598},{"t":"E","x":1.307,"y":1.476},{"t":"E","x":1.322,"y":0.459},{"t":"E","x":1.327,"y":-0.459},{"t":"E","x":1.322,"y":-1.286},{"t":"E","x":1.309,"y":-2.029},{"t":"E","x":1.268,"y":-3.361},{"t":"E","x":1.201,"y":-4.407},{"t":"E","x":1.113,"y":-5.203},{"t":"E","x":1.009,"y":-5.777},{"t":"E","x":0.893,"y":-6.143},{"t":"E","x":0.77,"y":-6.317},{"t":"E","x":0.644,"y":-6.305},{"t":"E","x":0.518,"y":-6.123},{"t":"E","x":0.395,"y":-5.791},{"t":"E","x":0.279,"y":-5.325},{"t":"E","x":0.173,"y":-4.755},{"t":"E","x":0.078,"y":-4.113},{"t":"E","x":-0.004,"y":-3.431},{"t":"E","x":-0.073,"y":-2.737},{"t":"E","x":-0.128,"y":-2.057},{"t":"E","x":-0.169,"y":-1.415},{"t":"E","x":-0.197,"y":-0.829},{"t":"E","x":-0.214,"y":-0.311},{"t":"E","x":-0.22,"y":0.133},{"t":"E","x":-0.217,"y":0.499},{"t":"E","x":-0.207,"y":0.787},{"t":"E","x":-0.191,"y":0.999},{"t":"E","x":-0.171,"y":1.141},{"t":"E","x":-0.148,"y":1.219},{"t":"E","x":-0.124,"y":1.241},{"t":"E","x":-0.099,"y":1.215},{"t":"E","x":-0.075,"y":1.149},{"t":"E","x":-0.052,"y":1.053},{"t":"E","x":-0.031,"y":0.937},{"t":"E","x":-0.012,"y":0.805},{"t":"E","x":0.004,"y":0.665},{"t":"E","x":0.017,"y":0.52},{"t":"E","x":0.027,"y":0.38},{"t":"E","x":0.035,"y":0.25},{"t":"E","x":0.04,"y":0.13},{"t":"E","x":0,"y":0},
{"t":"e","x":-0.942,"y":-10},{"t":"e","x":-1.042,"y":-8.272},{"t":"e","x":-1.125,"y":-6.667},{"t":"e","x":-1.191,"y":-5.188},{"t":"e","x":-1.243,"y":-3.833},{"t":"e","x":-1.281,"y":-2.598},{"t":"e","x":-1.307,"y":-1.476},{"t":"e","x":-1.322,"y":-0.459},{"t":"e","x":-1.327,"y":0.459},{"t":"e","x":-1.322,"y":1.286},{"t":"e","x":-1.309,"y":2.029},{"t":"e","x":-1.268,"y":3.361},{"t":"e","x":-1.201,"y":4.407},{"t":"e","x":-1.113,"y":5.203},{"t":"e","x":-1.009,"y":5.777},{"t":"e","x":-0.893,"y":6.143},{"t":"e","x":-0.77,"y":6.317},{"t":"e","x":-0.644,"y":6.305},{"t":"e","x":-0.518,"y":6.123},{"t":"e","x":-0.395,"y":5.791},{"t":"e","x":-0.279,"y":5.325},{"t":"e","x":-0.173,"y":4.755},{"t":"e","x":-0.078,"y":4.113},{"t":"e","x":0.004,"y":3.431},{"t":"e","x":0.073,"y":2.737},{"t":"e","x":0.128,"y":2.057},{"t":"e","x":0.169,"y":1.415},{"t":"e","x":0.197,"y":0.829},{"t":"e","x":0.214,"y":0.311},{"t":"e","x":0.22,"y":-0.133},{"t":"e","x":0.217,"y":-0.499},{"t":"e","x":0.207,"y":-0.787},{"t":"e","x":0.191,"y":-0.999},{"t":"e","x":0.171,"y":-1.141},{"t":"e","x":0.148,"y":-1.219},{"t":"e","x":0.124,"y":-1.241},{"t":"e","x":0.099,"y":-1.215},{"t":"e","x":0.075,"y":-1.149},{"t":"e","x":0.052,"y":-1.053},{"t":"e","x":0.031,"y":-0.937},{"t":"e","x":0.012,"y":-0.805},{"t":"e","x":-0.004,"y":-0.665},{"t":"e","x":-0.017,"y":-0.52},{"t":"e","x":-0.027,"y":-0.38},{"t":"e","x":-0.035,"y":-0.25},{"t":"e","x":-0.04,"y":-0.13},{"t":"e","x":0,"y":0},
{"t":"H","x":1.03,"y":10},{"t":"H","x":1.13,"y":8.228},{"t":"H","x":1.212,"y":6.591},{"t":"H","x":1.278,"y":5.09},{"t":"H","x":1.329,"y":3.72},{"t":"H","x":1.366,"y":2.474},{"t":"H","x":1.391,"y":1.346},{"t":"H","x":1.404,"y":0.325},{"t":"H","x":1.407,"y":-0.595},{"t":"H","x":1.401,"y":-1.422},{"t":"H","x":1.387,"y":-2.167},{"t":"H","x":1.344,"y":-3.503},{"t":"H","x":1.274,"y":-4.557},{"t":"H","x":1.183,"y":-5.365},{"t":"H","x":1.076,"y":-5.957},{"t":"H","x":0.957,"y":-6.349},{"t":"H","x":0.83,"y":-6.551},{"t":"H","x":0.699,"y":-6.569},{"t":"H","x":0.568,"y":-6.413},{"t":"H","x":0.44,"y":-6.099},{"t":"H","x":0.318,"y":-5.645},{"t":"H","x":0.205,"y":-5.079},{"t":"H","x":0.103,"y":-4.431},{"t":"H","x":0.014,"y":-3.731},{"t":"H","x":-0.061,"y":-3.011},{"t":"H","x":-0.121,"y":-2.299},{"t":"H","x":-0.167,"y":-1.621},{"t":"H","x":-0.199,"y":-0.997},{"t":"H","x":-0.219,"y":-0.441},{"t":"H","x":-0.228,"y":0.037},{"t":"H","x":-0.227,"y":0.435},{"t":"H","x":-0.218,"y":0.751},{"t":"H","x":-0.203,"y":0.991},{"t":"H","x":-0.183,"y":1.155},{"t":"H","x":-0.16,"y":1.251},{"t":"H","x":-0.135,"y":1.287},{"t":"H","x":-0.109,"y":1.271},{"t":"H","x":-0.084,"y":1.213},{"t":"H","x":-0.06,"y":1.13},{"t":"H","x":-0.037,"y":1.02},{"t":"H","x":-0.017,"y":0.89},{"t":"H","x":0,"y":0.75},{"t":"H","x":0.015,"y":0.6},{"t":"H","x":0.027,"y":0.45},{"t":"H","x":0.036,"y":0.3},{"t":"H","x":0.04,"y":0.17},{"t":"H","x":0,"y":0},
{"t":"h","x":-1.03,"y":-10},{"t":"h","x":-1.13,"y":-8.228},{"t":"h","x":-1.212,"y":-6.591},{"t":"h","x":-1.278,"y":-5.09},{"t":"h","x":-1.329,"y":-3.72},{"t":"h","x":-1.366,"y":-2.474},{"t":"h","x":-1.391,"y":-1.346},{"t":"h","x":-1.404,"y":-0.325},{"t":"h","x":-1.407,"y":0.595},{"t":"h","x":-1.401,"y":1.422},{"t":"h","x":-1.387,"y":2.167},{"t":"h","x":-1.344,"y":3.503},{"t":"h","x":-1.274,"y":4.557},{"t":"h","x":-1.183,"y":5.365},{"t":"h","x":-1.076,"y":5.957},{"t":"h","x":-0.957,"y":6.349},{"t":"h","x":-0.83,"y":6.551},{"t":"h","x":-0.699,"y":6.569},{"t":"h","x":-0.568,"y":6.413},{"t":"h","x":-0.44,"y":6.099},{"t":"h","x":-0.318,"y":5.645},{"t":"h","x":-0.205,"y":5.079},{"t":"h","x":-0.103,"y":4.431},{"t":"h","x":-0.014,"y":3.731},{"t":"h","x":0.061,"y":3.011},{"t":"h","x":0.121,"y":2.299},{"t":"h","x":0.167,"y":1.621},{"t":"h","x":0.199,"y":0.997},{"t":"h","x":0.219,"y":0.441},{"t":"h","x":0.228,"y":-0.037},{"t":"h","x":0.227,"y":-0.435},{"t":"h","x":0.218,"y":-0.751},{"t":"h","x":0.203,"y":-0.991},{"t":"h","x":0.183,"y":-1.155},{"t":"h","x":0.16,"y":-1.251},{"t":"h","x":0.135,"y":-1.287},{"t":"h","x":0.109,"y":-1.271},{"t":"h","x":0.084,"y":-1.213},{"t":"h","x":0.06,"y":-1.13},{"t":"h","x":0.037,"y":-1.02},{"t":"h","x":0.017,"y":-0.89},{"t":"h","x":0,"y":-0.75},{"t":"h","x":-0.015,"y":-0.6},{"t":"h","x":-0.027,"y":-0.45},{"t":"h","x":-0.036,"y":-0.3},{"t":"h","x":-0.04,"y":-0.17},{"t":"h","x":0,"y":0},
{"t":"F","x":1.4,"y":10},{"t":"F","x":1.5,"y":8.113},{"t":"F","x":1.581,"y":6.404},{"t":"F","x":1.645,"y":4.864},{"t":"F","x":1.694,"y":3.48},{"t":"F","x":1.729,"y":2.239},{"t":"F","x":1.751,"y":1.126},{"t":"F","x":1.762,"y":0.128},{"t":"F","x":1.763,"y":-0.769},{"t":"F","x":1.755,"y":-1.576},{"t":"F","x":1.739,"y":-2.303},{"t":"F","x":1.693,"y":-3.617},{"t":"F","x":1.621,"y":-4.679},{"t":"F","x":1.527,"y":-5.541},{"t":"F","x":1.416,"y":-6.231},{"t":"F","x":1.291,"y":-6.763},{"t":"F","x":1.156,"y":-7.141},{"t":"F","x":1.013,"y":-7.359},{"t":"F","x":0.866,"y":-7.413},{"t":"F","x":0.718,"y":-7.303},{"t":"F","x":0.572,"y":-7.027},{"t":"F","x":0.431,"y":-6.595},{"t":"F","x":0.299,"y":-6.027},{"t":"F","x":0.178,"y":-5.351},{"t":"F","x":0.071,"y":-4.599},{"t":"F","x":-0.021,"y":-3.807},{"t":"F","x":-0.097,"y":-3.007},{"t":"F","x":-0.157,"y":-2.231},{"t":"F","x":-0.202,"y":-1.505},{"t":"F","x":-0.232,"y":-0.841},{"t":"F","x":-0.249,"y":-0.259},{"t":"F","x":-0.254,"y":0.237},{"t":"F","x":-0.249,"y":0.641},{"t":"F","x":-0.236,"y":0.957},{"t":"F","x":-0.217,"y":1.185},{"t":"F","x":-0.193,"y":1.333},{"t":"F","x":-0.166,"y":1.411},{"t":"F","x":-0.138,"y":1.425},{"t":"F","x":-0.11,"y":1.387},{"t":"F","x":-0.082,"y":1.307},{"t":"F","x":-0.056,"y":1.193},{"t":"F","x":-0.032,"y":1.055},{"t":"F","x":-0.011,"y":0.901},{"t":"F","x":0.007,"y":0.74},{"t":"F","x":0.022,"y":0.58},{"t":"F","x":0.034,"y":0.42},{"t":"F","x":0.042,"y":0.27},{"t":"F","x":0.047,"y":0.13},{"t":"F","x":0,"y":0},
{"t":"f","x":-1.4,"y":-10},{"t":"f","x":-1.5,"y":-8.113},{"t":"f","x":-1.581,"y":-6.404},{"t":"f","x":-1.645,"y":-4.864},{"t":"f","x":-1.694,"y":-3.48},{"t":"f","x":-1.729,"y":-2.239},{"t":"f","x":-1.751,"y":-1.126},{"t":"f","x":-1.762,"y":-0.128},{"t":"f","x":-1.763,"y":0.769},{"t":"f","x":-1.755,"y":1.576},{"t":"f","x":-1.739,"y":2.303},{"t":"f","x":-1.693,"y":3.617},{"t":"f","x":-1.621,"y":4.679},{"t":"f","x":-1.527,"y":5.541},{"t":"f","x":-1.416,"y":6.231},{"t":"f","x":-1.291,"y":6.763},{"t":"f","x":-1.156,"y":7.141},{"t":"f","x":-1.013,"y":7.359},{"t":"f","x":-0.866,"y":7.413},{"t":"f","x":-0.718,"y":7.303},{"t":"f","x":-0.572,"y":7.027},{"t":"f","x":-0.431,"y":6.595},{"t":"f","x":-0.299,"y":6.027},{"t":"f","x":-0.178,"y":5.351},{"t":"f","x":-0.071,"y":4.599},{"t":"f","x":0.021,"y":3.807},{"t":"f","x":0.097,"y":3.007},{"t":"f","x":0.157,"y":2.231},{"t":"f","x":0.202,"y":1.505},{"t":"f","x":0.232,"y":0.841},{"t":"f","x":0.249,"y":0.259},{"t":"f","x":0.254,"y":-0.237},{"t":"f","x":0.249,"y":-0.641},{"t":"f","x":0.236,"y":-0.957},{"t":"f","x":0.217,"y":-1.185},{"t":"f","x":0.193,"y":-1.333},{"t":"f","x":0.166,"y":-1.411},{"t":"f","x":0.138,"y":-1.425},{"t":"f","x":0.11,"y":-1.387},{"t":"f","x":0.082,"y":-1.307},{"t":"f","x":0.056,"y":-1.193},{"t":"f","x":0.032,"y":-1.055},{"t":"f","x":0.011,"y":-0.901},{"t":"f","x":-0.007,"y":-0.74},{"t":"f","x":-0.022,"y":-0.58},{"t":"f","x":-0.034,"y":-0.42},{"t":"f","x":-0.042,"y":-0.27},{"t":"f","x":-0.047,"y":-0.13},{"t":"f","x":0,"y":0},
{"t":"I","x":1.3,"y":10},{"t":"I","x":1.4,"y":8.133},{"t":"I","x":1.481,"y":6.433},{"t":"I","x":1.545,"y":4.894},{"t":"I","x":1.594,"y":3.505},{"t":"I","x":1.629,"y":2.254},{"t":"I","x":1.652,"y":1.131},{"t":"I","x":1.663,"y":0.121},{"t":"I","x":1.664,"y":-0.787},{"t":"I","x":1.656,"y":-1.604},{"t":"I","x":1.64,"y":-2.341},{"t":"I","x":1.593,"y":-3.669},{"t":"I","x":1.52,"y":-4.735},{"t":"I","x":1.425,"y":-5.585},{"t":"I","x":1.313,"y":-6.247},{"t":"I","x":1.188,"y":-6.737},{"t":"I","x":1.053,"y":-7.059},{"t":"I","x":0.912,"y":-7.211},{"t":"I","x":0.768,"y":-7.193},{"t":"I","x":0.624,"y":-7.007},{"t":"I","x":0.484,"y":-6.657},{"t":"I","x":0.351,"y":-6.163},{"t":"I","x":0.228,"y":-5.551},{"t":"I","x":0.117,"y":-4.847},{"t":"I","x":0.02,"y":-4.087},{"t":"I","x":-0.062,"y":-3.305},{"t":"I","x":-0.128,"y":-2.531},{"t":"I","x":-0.179,"y":-1.795},{"t":"I","x":-0.215,"y":-1.115},{"t":"I","x":-0.237,"y":-0.507},{"t":"I","x":-0.247,"y":0.017},{"t":"I","x":-0.247,"y":0.453},{"t":"I","x":-0.238,"y":0.803},{"t":"I","x":-0.222,"y":1.067},{"t":"I","x":-0.201,"y":1.249},{"t":"I","x":-0.176,"y":1.357},{"t":"I","x":-0.149,"y":1.401},{"t":"I","x":-0.121,"y":1.387},{"t":"I","x":-0.093,"y":1.327},{"t":"I","x":-0.066,"y":1.23},{"t":"I","x":-0.041,"y":1.1},{"t":"I","x":-0.019,"y":0.95},{"t":"I","x":0,"y":0.8},{"t":"I","x":0.016,"y":0.64},{"t":"I","x":0.028,"y":0.48},{"t":"I","x":0.037,"y":0.33},{"t":"I","x":0.042,"y":0.19},{"t":"I","x":0,"y":0},
{"t":"i","x":-1.3,"y":-10},{"t":"i","x":-1.4,"y":-8.133},{"t":"i","x":-1.481,"y":-6.433},{"t":"i","x":-1.545,"y":-4.894},{"t":"i","x":-1.594,"y":-3.505},{"t":"i","x":-1.629,"y":-2.254},{"t":"i","x":-1.652,"y":-1.131},{"t":"i","x":-1.663,"y":-0.121},{"t":"i","x":-1.664,"y":0.787},{"t":"i","x":-1.656,"y":1.604},{"t":"i","x":-1.64,"y":2.341},{"t":"i","x":-1.593,"y":3.669},{"t":"i","x":-1.52,"y":4.735},{"t":"i","x":-1.425,"y":5.585},{"t":"i","x":-1.313,"y":6.247},{"t":"i","x":-1.188,"y":6.737},{"t":"i","x":-1.053,"y":7.059},{"t":"i","x":-0.912,"y":7.211},{"t":"i","x":-0.768,"y":7.193},{"t":"i","x":-0.624,"y":7.007},{"t":"i","x":-0.484,"y":6.657},{"t":"i","x":-0.351,"y":6.163},{"t":"i","x":-0.228,"y":5.551},{"t":"i","x":-0.117,"y":4.847},{"t":"i","x":-0.02,"y":4.087},{"t":"i","x":0.062,"y":3.305},{"t":"i","x":0.128,"y":2.531},{"t":"i","x":0.179,"y":1.795},{"t":"i","x":0.215,"y":1.115},{"t":"i","x":0.237,"y":0.507},{"t":"i","x":0.247,"y":-0.017},{"t":"i","x":0.247,"y":-0.453},{"t":"i","x":0.238,"y":-0.803},{"t":"i","x":0.222,"y":-1.067},{"t":"i","x":0.201,"y":-1.249},{"t":"i","x":0.176,"y":-1.357},{"t":"i","x":0.149,"y":-1.401},{"t":"i","x":0.121,"y":-1.387},{"t":"i","x":0.093,"y":-1.327},{"t":"i","x":0.066,"y":-1.23},{"t":"i","x":0.041,"y":-1.1},{"t":"i","x":0.019,"y":-0.95},{"t":"i","x":0,"y":-0.8},{"t":"i","x":-0.016,"y":-0.64},{"t":"i","x":-0.028,"y":-0.48},{"t":"i","x":-0.037,"y":-0.33},{"t":"i","x":-0.042,"y":-0.19},{"t":"i","x":0,"y":0}
],
"heads":[
{"x":-0.89,"y":7.52,"ang":88},{"x":0.89,"y":-7.52,"ang":268},
{"x":-0.37,"y":6.12,"ang":115},{"x":0.37,"y":-6.12,"ang":295},
{"x":-0.47,"y":8.4,"ang":120},{"x":0.47,"y":-8.4,"ang":300},
{"x":0.115,"y":6.2,"ang":145},{"x":-0.115,"y":-6.2,"ang":325},
{"x":0.585,"y":6.15,"ang":156},{"x":-0.585,"y":-6.15,"ang":336},
{"x":0.804,"y":-0.8,"ang":181},{"x":-0.804,"y":0.8,"ang":1},
{"x":1.21,"y":4.7,"ang":163},{"x":-1.21,"y":-4.7,"ang":343},
{"x":1.49,"y":8.3,"ang":157},{"x":-1.49,"y":-8.3,"ang":337},
{"x":1.19,"y":7.0,"ang":160},{"x":-1.19,"y":-7.0,"ang":340},
{"x":1.55,"y":4.8,"ang":164},{"x":-1.55,"y":-4.8,"ang":344}
]},
"resolve":{"axis":{"x":"independent","y":"independent"}},
"layer":[
{"data":{"name":"arrows"},"mark":{"type":"rule","color":"#9c9c9c","strokeWidth":0.8},
"encoding":{
"x":{"field":"x","type":"quantitative","scale":{"domain":[-1.5708,1.5708],"nice":false,"zero":false},
"axis":{"orient":"bottom","values":[-1.5708,0,1.5708],"labelExpr":"datum.value < -1 ? '\u2212\u03c0/2' : datum.value > 1 ? '\u03c0/2' : '0'","grid":true,"tickSize":-4,"labelPadding":8,"title":"x\u2081 (rad)","titleFontStyle":"italic","titlePadding":2,"labelFlush":false}},
"y":{"field":"y","type":"quantitative","scale":{"domain":[-10,10],"nice":false,"zero":false},
"axis":{"orient":"left","values":[-10,-8,-6,-4,-2,0,2,4,6,8,10],"labelExpr":"'' + datum.value","grid":true,"tickSize":-4,"labelPadding":8,"title":"x\u2082 (rad/s)","titleFontStyle":"italic","titlePadding":4}},
"x2":{"field":"xe"},"y2":{"field":"ye"}}},
{"data":{"name":"arrows"},"transform":[{"filter":"datum.h != 'n'"}],
"mark":{"type":"point","filled":false,"stroke":"#9c9c9c","strokeWidth":0.8,"size":64,"opacity":1},
"encoding":{
"x":{"field":"hx","type":"quantitative","axis":null},
"y":{"field":"ye","type":"quantitative","axis":null},
"shape":{"field":"h","type":"nominal","scale":{"domain":["u","d"],"range":["M-0.8,0.35L0,0L0.8,0.35","M-0.8,-0.35L0,0L0.8,-0.35"]},"legend":null}}},
{"data":{"name":"traj"},"mark":{"type":"line","color":"#444444","strokeWidth":1.05,"clip":true,"interpolate":"basis"},
"encoding":{
"x":{"field":"x","type":"quantitative","axis":{"orient":"top","values":[-1.5708,0,1.5708],"labels":false,"grid":false,"tickSize":-4,"title":null,"domain":false}},
"y":{"field":"y","type":"quantitative","axis":{"orient":"right","values":[-10,-8,-6,-4,-2,0,2,4,6,8,10],"labels":false,"grid":false,"tickSize":-4,"title":null,"domain":false}},
"detail":{"field":"t"},"order":{"value":null}}},
{"data":{"name":"heads"},"mark":{"type":"point","filled":true,"color":"#444444","size":58,"opacity":1,"shape":"M0,-1L0.6,0.6L-0.6,0.6Z"},
"encoding":{
"x":{"field":"x","type":"quantitative","axis":null},
"y":{"field":"y","type":"quantitative","axis":null},
"angle":{"field":"ang","type":"quantitative","scale":null}}}
]
}
